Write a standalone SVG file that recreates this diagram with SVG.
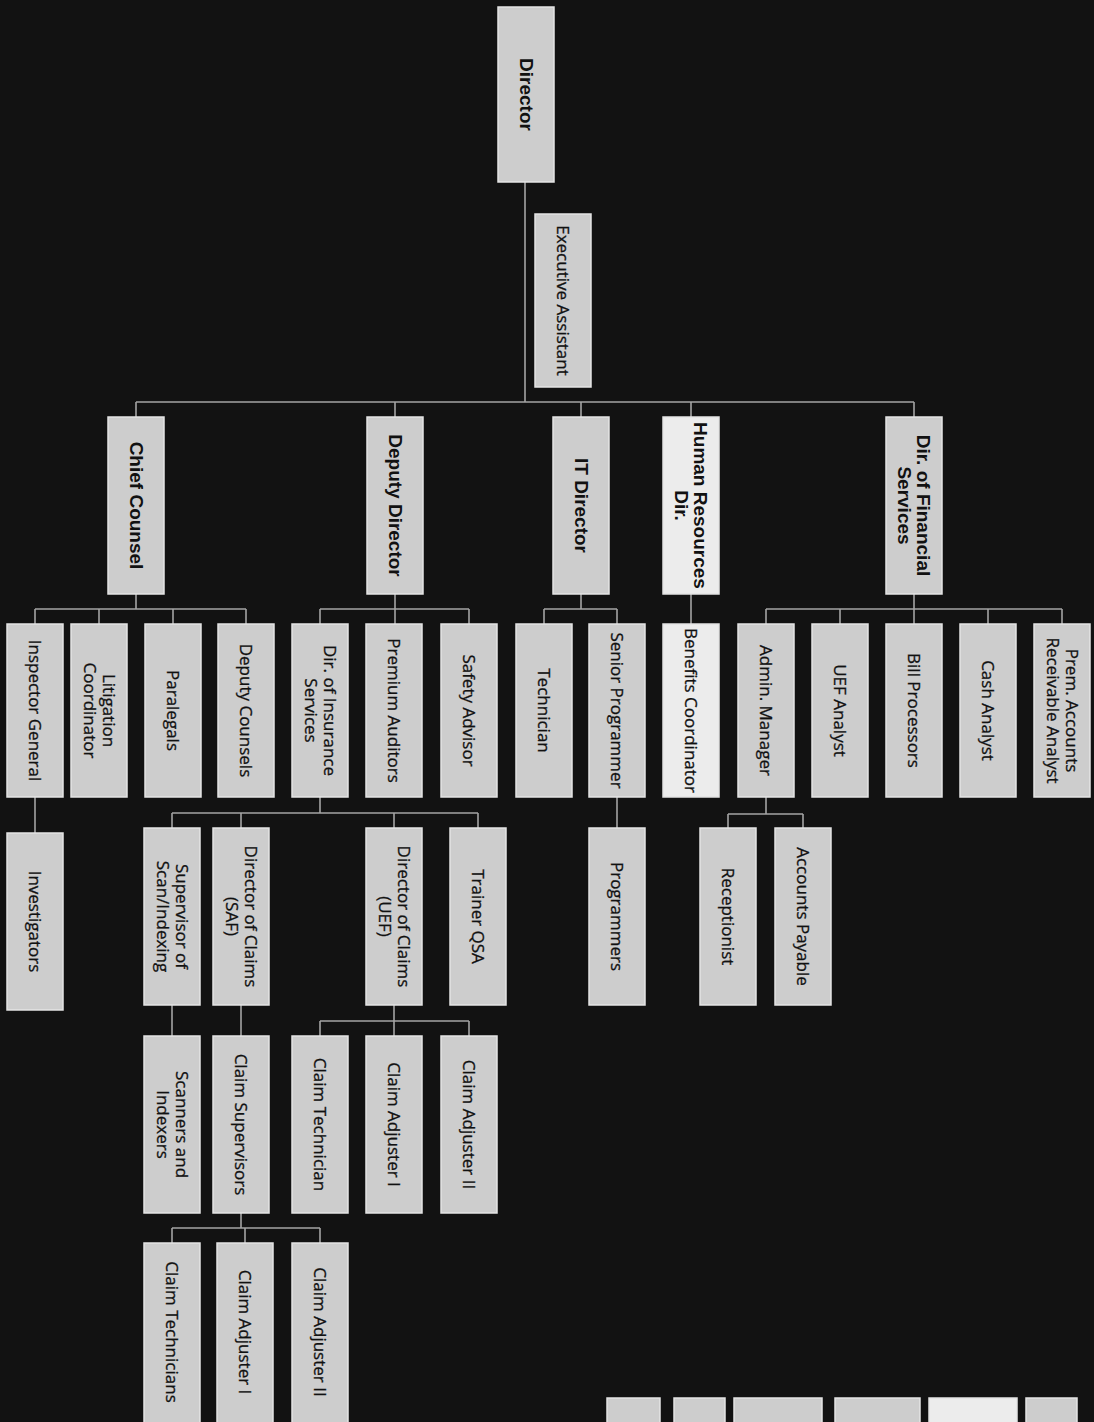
<svg xmlns="http://www.w3.org/2000/svg" width="1094" height="1422" viewBox="0 0 1094 1422">
<style>
.box{fill:#cdcdcd;stroke:#e4e4e4;stroke-width:1.5}
.hl{fill:#ececec}
.t{font-family:"Open Sans","Liberation Sans",sans-serif;font-size:17px;fill:#111111;stroke:#111111;stroke-width:0.3;text-anchor:middle}
.b{font-family:"Liberation Sans","DejaVu Sans",sans-serif;font-weight:bold;font-size:19px;fill:#111111;text-anchor:middle}
.c{fill:none;stroke:#a4a4a4;stroke-width:1.6}
</style>
<rect x="0" y="0" width="1094" height="1422" fill="#121212"/>
<g id="connectors" class="c">
<path d="M525 182V402M136 402H914M136 402V417M395 402V417M581 402V417M691 402V417M914 402V417"/>
<path d="M136 594V609M35 609H246M35 609V624M99 609V624M173 609V624M246 609V624"/>
<path d="M395 594V609M320 609H469M320 609V624M395 609V624M469 609V624"/>
<path d="M581 594V609M544 609H617M544 609V624M617 609V624"/>
<path d="M691 594V624"/>
<path d="M914 594V609M766 609H1062M766 609V624M840 609V624M914 609V624M988 609V624M1062 609V624"/>
<path d="M35 797V833"/>
<path d="M320 797V813M172 813H478M172 813V828M241 813V828M394 813V828M478 813V828"/>
<path d="M617 797V828"/>
<path d="M766 797V814M728 814H803M728 814V828M803 814V828"/>
<path d="M172 1005V1036M241 1005V1036"/>
<path d="M394 1005V1021M320 1021H469M320 1021V1036M394 1021V1036M469 1021V1036"/>
<path d="M241 1213V1228M172 1228H320M172 1228V1243M245 1228V1243M320 1228V1243"/>
</g>
<g id="n-director"><rect class="box" x="498" y="7" width="56" height="175"/><text class="b" transform="translate(526 94.5) rotate(90)" y="6.5">Director</text></g>
<g id="n-exec"><rect class="box" x="535" y="214" width="56" height="173"/><text class="t" transform="translate(563 300.5) rotate(90)" y="6">Executive Assistant</text></g>
<g id="n-chief"><rect class="box" x="108" y="417" width="56" height="177"/><text class="b" transform="translate(136 505.5) rotate(90)" y="6.5">Chief Counsel</text></g>
<g id="n-deputy"><rect class="box" x="367" y="417" width="56" height="177"/><text class="b" transform="translate(395 505.5) rotate(90)" y="6.5">Deputy Director</text></g>
<g id="n-it"><rect class="box" x="553" y="417" width="56" height="177"/><text class="b" transform="translate(581 505.5) rotate(90)" y="6.5">IT Director</text></g>
<g id="n-hr"><rect class="box hl" x="663" y="417" width="56" height="177"/><text class="b" transform="translate(691 505.5) rotate(90)"><tspan x="0" y="-3">Human Resources</tspan><tspan x="0" y="16">Dir.</tspan></text></g>
<g id="n-fin"><rect class="box" x="886" y="417" width="56" height="177"/><text class="b" transform="translate(914 505.5) rotate(90)"><tspan x="0" y="-3">Dir. of Financial</tspan><tspan x="0" y="16">Services</tspan></text></g>
<g id="n-ig"><rect class="box" x="7" y="624" width="56" height="173"/><text class="t" transform="translate(35 710.5) rotate(90)" y="6">Inspector General</text></g>
<g id="n-lit"><rect class="box" x="71" y="624" width="56" height="173"/><text class="t" transform="translate(99 710.5) rotate(90)"><tspan x="0" y="-3.5">Litigation</tspan><tspan x="0" y="15">Coordinator</tspan></text></g>
<g id="n-para"><rect class="box" x="145" y="624" width="56" height="173"/><text class="t" transform="translate(173 710.5) rotate(90)" y="6">Paralegals</text></g>
<g id="n-depc"><rect class="box" x="218" y="624" width="56" height="173"/><text class="t" transform="translate(246 710.5) rotate(90)" y="6">Deputy Counsels</text></g>
<g id="n-dis"><rect class="box" x="292" y="624" width="56" height="173"/><text class="t" transform="translate(320 710.5) rotate(90)"><tspan x="0" y="-3.5">Dir. of Insurance</tspan><tspan x="0" y="15">Services</tspan></text></g>
<g id="n-pa"><rect class="box" x="366" y="624" width="56" height="173"/><text class="t" transform="translate(394 710.5) rotate(90)" y="6">Premium Auditors</text></g>
<g id="n-sa"><rect class="box" x="441" y="624" width="56" height="173"/><text class="t" transform="translate(469 710.5) rotate(90)" y="6">Safety Advisor</text></g>
<g id="n-tech"><rect class="box" x="516" y="624" width="56" height="173"/><text class="t" transform="translate(544 710.5) rotate(90)" y="6">Technician</text></g>
<g id="n-sp"><rect class="box" x="589" y="624" width="56" height="173"/><text class="t" transform="translate(617 710.5) rotate(90)" y="6">Senior Programmer</text></g>
<g id="n-bc"><rect class="box hl" x="663" y="624" width="56" height="173"/><text class="t" transform="translate(691 710.5) rotate(90)" y="6">Benefits Coordinator</text></g>
<g id="n-am"><rect class="box" x="738" y="624" width="56" height="173"/><text class="t" transform="translate(766 710.5) rotate(90)" y="6">Admin. Manager</text></g>
<g id="n-uef"><rect class="box" x="812" y="624" width="56" height="173"/><text class="t" transform="translate(840 710.5) rotate(90)" y="6">UEF Analyst</text></g>
<g id="n-bill"><rect class="box" x="886" y="624" width="56" height="173"/><text class="t" transform="translate(914 710.5) rotate(90)" y="6">Bill Processors</text></g>
<g id="n-cash"><rect class="box" x="960" y="624" width="56" height="173"/><text class="t" transform="translate(988 710.5) rotate(90)" y="6">Cash Analyst</text></g>
<g id="n-prem"><rect class="box" x="1034" y="624" width="56" height="173"/><text class="t" transform="translate(1062 710.5) rotate(90)"><tspan x="0" y="-3.5">Prem. Accounts</tspan><tspan x="0" y="15">Receivable Analyst</tspan></text></g>
<g id="n-inv"><rect class="box" x="7" y="833" width="56" height="177"/><text class="t" transform="translate(35 921.5) rotate(90)" y="6">Investigators</text></g>
<g id="n-ssi"><rect class="box" x="144" y="828" width="56" height="177"/><text class="t" transform="translate(172 916.5) rotate(90)"><tspan x="0" y="-3.5">Supervisor of</tspan><tspan x="0" y="15">Scan/Indexing</tspan></text></g>
<g id="n-dcsaf"><rect class="box" x="213" y="828" width="56" height="177"/><text class="t" transform="translate(241 916.5) rotate(90)"><tspan x="0" y="-3.5">Director of Claims</tspan><tspan x="0" y="15">(SAF)</tspan></text></g>
<g id="n-dcuef"><rect class="box" x="366" y="828" width="56" height="177"/><text class="t" transform="translate(394 916.5) rotate(90)"><tspan x="0" y="-3.5">Director of Claims</tspan><tspan x="0" y="15">(UEF)</tspan></text></g>
<g id="n-trainer"><rect class="box" x="450" y="828" width="56" height="177"/><text class="t" transform="translate(478 916.5) rotate(90)" y="6">Trainer QSA</text></g>
<g id="n-prog"><rect class="box" x="589" y="828" width="56" height="177"/><text class="t" transform="translate(617 916.5) rotate(90)" y="6">Programmers</text></g>
<g id="n-rec"><rect class="box" x="700" y="828" width="56" height="177"/><text class="t" transform="translate(728 916.5) rotate(90)" y="6">Receptionist</text></g>
<g id="n-ap"><rect class="box" x="775" y="828" width="56" height="177"/><text class="t" transform="translate(803 916.5) rotate(90)" y="6">Accounts Payable</text></g>
<g id="n-scan"><rect class="box" x="144" y="1036" width="56" height="177"/><text class="t" transform="translate(172 1124.5) rotate(90)"><tspan x="0" y="-3.5">Scanners and</tspan><tspan x="0" y="15">Indexers</tspan></text></g>
<g id="n-csup"><rect class="box" x="213" y="1036" width="56" height="177"/><text class="t" transform="translate(241 1124.5) rotate(90)" y="6">Claim Supervisors</text></g>
<g id="n-ctech"><rect class="box" x="292" y="1036" width="56" height="177"/><text class="t" transform="translate(320 1124.5) rotate(90)" y="6">Claim Technician</text></g>
<g id="n-ca1"><rect class="box" x="366" y="1036" width="56" height="177"/><text class="t" transform="translate(394 1124.5) rotate(90)" y="6">Claim Adjuster I</text></g>
<g id="n-ca2"><rect class="box" x="441" y="1036" width="56" height="177"/><text class="t" transform="translate(469 1124.5) rotate(90)" y="6">Claim Adjuster II</text></g>
<g id="n-ctechs"><rect class="box" x="144" y="1243" width="56" height="182"/><text class="t" transform="translate(172 1332) rotate(90)" y="6">Claim Technicians</text></g>
<g id="n-ca1b"><rect class="box" x="217" y="1243" width="56" height="182"/><text class="t" transform="translate(245 1332) rotate(90)" y="6">Claim Adjuster I</text></g>
<g id="n-ca2b"><rect class="box" x="292" y="1243" width="56" height="182"/><text class="t" transform="translate(320 1332) rotate(90)" y="6">Claim Adjuster II</text></g>
<g id="n-legend">
<rect class="box" x="607" y="1398" width="53" height="30"/>
<rect class="box" x="674" y="1398" width="51" height="30"/>
<rect class="box" x="734" y="1398" width="88" height="30"/>
<rect class="box" x="835" y="1398" width="85" height="30"/>
<rect class="box hl" x="929" y="1398" width="88" height="30"/>
<rect class="box" x="1026" y="1398" width="51" height="30"/>
</g>
</svg>
